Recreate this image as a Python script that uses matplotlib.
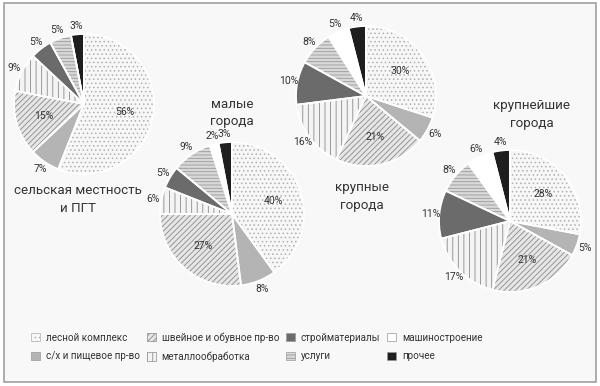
import numpy as np
import matplotlib
matplotlib.use("Agg")
import matplotlib.pyplot as plt
from matplotlib.patches import Patch, Rectangle

plt.rcParams['font.family'] = ['Roboto', 'DejaVu Sans']
plt.rcParams['hatch.linewidth'] = 0.6

categories = ['лесной комплекс', 'с/х и пищевое пр-во', 'швейное и обувное пр-во',
              'металлообработка', 'стройматериалы', 'услуги', 'машиностроение', 'прочее']

rural = [56, 7, 15, 9, 5, 5, 0, 3]
small = [40, 8, 27, 6, 5, 9, 2, 3]
large = [30, 6, 21, 16, 10, 8, 5, 4]
largest = [28, 5, 21, 17, 11, 8, 6, 4]

titles = ['сельская местность\nи ПГТ', 'малые\nгорода', 'крупные\nгорода', 'крупнейшие\nгорода']

# styles per category
faces = ['#f7f7f7', '#b4b4b4', '#e6e6e6', '#f4f4f4', '#6b6b6b', '#d8d8d8', '#ffffff', '#1e1e1e']
hatch_col = ['#b0b0b0', '#b4b4b4', '#8a8a8a', '#8a8a8a', '#6b6b6b', '#9a9a9a', '#ffffff', '#1e1e1e']
hatches = ['....', None, '//////', '|||', None, '-----', None, None]

# layout in pixels: (cx, cy, r), title center, labels inside?
W, H = 600, 386
pies = [
    (rural, (84, 104, 70), (78, 199), [True, False, True, False, False, False, False, False]),
    (small, (232, 214, 72), (232, 113), [True, False, True, False, False, False, False, False]),
    (large, (366, 96, 70), (362, 197), [True, False, True, False, False, False, False, False]),
    (largest, (510, 221, 71), (532, 115), [True, False, True, False, False, False, False, False]),
]

fig = plt.figure(figsize=(6, 3.86), dpi=100)
fig.patches.append(Rectangle((4 / W, 1 - 382 / H), 592 / W, 379 / H, transform=fig.transFigure,
                             facecolor='#f8f8f8', edgecolor='#a0a0a0', lw=1.2, zorder=-1))

for (vals, (cx, cy, r), (tx, ty), inside), title in zip(pies, titles):
    ax = fig.add_axes([(cx - r) / W, 1 - (cy + r) / H, 2 * r / W, 2 * r / H])
    wedges, _ = ax.pie(vals, startangle=90, counterclock=False, radius=1,
                       colors=faces, wedgeprops=dict(linewidth=0))
    for w, hc, h in zip(wedges, hatch_col, hatches):
        w.set_edgecolor(hc)
        w.set_hatch(h)
    ax.pie(vals, startangle=90, counterclock=False, radius=1,
           colors=['none'] * len(vals), wedgeprops=dict(linewidth=1.3, edgecolor='white'))
    ax.set_xlim(-1, 1)
    ax.set_ylim(-1, 1)
    ax.axis('off')
    total = sum(vals)
    start = 90.0
    for v, ins in zip(vals, inside):
        if v == 0:
            continue
        mid = np.radians(start - 360 * v / total / 2)
        start -= 360 * v / total
        d = 0.6 if ins else 1.12
        ax.text(d * np.cos(mid), d * np.sin(mid), f'{v}%', ha='center', va='center',
                fontsize=7.5, color='#333333')
    fig.text(tx / W, 1 - ty / H, title, ha='center', va='center', fontsize=9.6,
             color='#333333', linespacing=1.5)

handles = [Patch(facecolor=f, edgecolor=hc if h else '#999999', hatch=h, lw=0.5)
           for f, hc, h in zip(faces, hatch_col, hatches)]
fig.legend(handles, categories, ncol=4, loc='center', bbox_to_anchor=(0.428, 1 - 347 / H),
           frameon=False, fontsize=7.1, handlelength=0.9, handleheight=0.9,
           columnspacing=0.7, handletextpad=0.6, labelspacing=0.9, labelcolor='#333333')

fig.savefig('out.png', dpi=100, facecolor='white')
